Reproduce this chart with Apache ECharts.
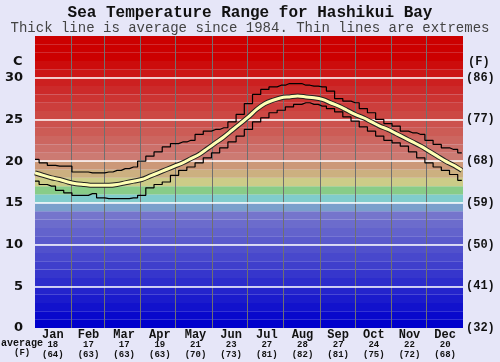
<!DOCTYPE html>
<html>
<head>
<meta charset="utf-8">
<title>Sea Temperature Range for Hashikui Bay</title>
<script src="https://cdn.jsdelivr.net/npm/echarts@6/dist/echarts.min.js"></script>
<style>
  html, body { margin: 0; padding: 0; background: #e6e6f8; }
  #chart { width: 500px; height: 362px; }
</style>
</head>
<body>
<div id="chart"></div>
<script>
// day of year for each sample
var days = [0, 7, 14, 21, 28, 35, 42, 49, 56, 63, 70, 77, 84, 91, 98, 105, 112, 119, 126, 133,
  140, 147, 154, 161, 168, 175, 182, 189, 196, 203, 210, 217, 224, 231, 238, 245, 252, 259,
  266, 273, 280, 287, 294, 301, 308, 315, 322, 329, 336, 343, 350, 357, 364];

// average sea temperature (C)
var avgTemp = [18.6, 18.3, 18.0, 17.8, 17.5, 17.3, 17.2, 17.1, 17.1, 17.1, 17.2, 17.4, 17.6, 17.8,
  18.2, 18.6, 19.0, 19.4, 19.8, 20.3, 20.8, 21.5, 22.2, 22.9, 23.7, 24.5, 25.3, 26.2, 26.9,
  27.3, 27.6, 27.7, 27.8, 27.7, 27.6, 27.4, 27.0, 26.6, 26.1, 25.6, 25.2, 24.7, 24.2, 23.8,
  23.3, 22.8, 22.3, 21.8, 21.2, 20.6, 20.0, 19.5, 18.9];

// highest recorded (C)
var maxTemp = [20.2, 19.8, 19.5, 19.4, 19.4, 18.7, 18.7, 18.6, 18.6, 18.7, 18.9, 19.1, 19.3, 20.0,
  20.6, 21.1, 21.7, 22.1, 22.3, 22.5, 23.2, 23.6, 23.8, 24.0, 24.7, 25.6, 26.9, 28.0, 28.6,
  28.9, 29.1, 29.3, 29.3, 29.1, 29.0, 28.9, 28.4, 27.5, 27.2, 27.0, 26.3, 25.8, 25.0, 24.5,
  24.2, 23.6, 23.4, 23.2, 22.5, 22.0, 21.6, 21.4, 21.0];

// lowest recorded (C)
var minTemp = [17.6, 17.2, 17.0, 16.5, 16.2, 15.9, 15.9, 16.1, 15.6, 15.5, 15.5, 15.5, 15.6, 15.9,
  16.8, 17.2, 17.5, 18.3, 18.9, 19.3, 19.8, 20.4, 21.0, 21.6, 22.3, 23.0, 23.8, 24.7, 25.2,
  25.8, 26.1, 26.5, 26.8, 27.0, 26.8, 26.6, 26.3, 25.9, 25.3, 24.8, 24.1, 23.6, 23.0, 22.5,
  22.2, 21.8, 21.1, 20.4, 19.8, 19.3, 18.9, 18.4, 17.7];

var months = ['Jan', 'Feb', 'Mar', 'Apr', 'May', 'Jun', 'Jul', 'Aug', 'Sep', 'Oct', 'Nov', 'Dec'];
var monthAvgC = [18, 17, 17, 19, 21, 23, 27, 28, 27, 24, 22, 20];
var monthAvgF = [64, 63, 63, 63, 70, 73, 81, 82, 81, 75, 72, 68];
var monthStarts = [31, 59, 90, 120, 151, 181, 212, 243, 273, 304, 334];
var yTicks = [5, 10, 15, 20, 25, 30];

// one colour per degree band, 0C at the bottom
var bandColors = ['#0000cc', '#0909cc', '#1212cc', '#1b1bcc', '#2424cc', '#2d2dcc', '#3636cc',
  '#3f3fcc', '#4848cc', '#5151cc', '#5a5acc', '#6363cc', '#6c6ccc', '#7575cc', '#7aa0cc',
  '#80cccc', '#88cc88', '#cccc88', '#ccb080', '#cc9878', '#cc7a72', '#cc706a', '#cc6660',
  '#cc5c56', '#cc524e', '#cc4844', '#cc3e3c', '#cc3432', '#cc2a2a', '#cc2020', '#cc1616',
  '#cc0c0c', '#cc0000', '#cc0000', '#cc0000'];

function pairs(vals) {
  return days.map(function (d, i) { return [d, vals[i]]; });
}

var mono = '"Liberation Mono", "Courier New", monospace';

var chart = echarts.init(document.getElementById('chart'));

var option = {
  animation: false,
  backgroundColor: '#e6e6f8',
  title: [
    {
      text: 'Sea Temperature Range for Hashikui Bay',
      left: 'center', top: 0,
      textStyle: { fontFamily: mono, fontWeight: 'bold', fontSize: 16, color: '#111' }
    },
    {
      text: 'Thick line is average since 1984. Thin lines are extremes',
      left: 'center', top: 16,
      textStyle: { fontFamily: mono, fontWeight: 'normal', fontSize: 14, color: '#444' }
    }
  ],
  grid: { left: 35, right: 37, top: 36, bottom: 34 },
  xAxis: [
    { type: 'value', min: 0, max: 365, show: false },
    {
      type: 'category', data: months, position: 'bottom', boundaryGap: true,
      axisLine: { show: false }, axisTick: { show: false }, splitLine: { show: false },
      axisLabel: {
        margin: 2, interval: 0,
        formatter: function (v, i) {
          return '{m|' + v + '}\n{v|' + monthAvgC[i] + '}\n{f|(' + monthAvgF[i] + ')}';
        },
        rich: {
          m: { fontFamily: mono, fontWeight: 'bold', fontSize: 12, lineHeight: 10, color: '#111' },
          v: { fontFamily: mono, fontWeight: 'bold', fontSize: 9, lineHeight: 10, color: '#111' },
          f: { fontFamily: mono, fontWeight: 'bold', fontSize: 9, lineHeight: 10, color: '#111' }
        }
      }
    }
  ],
  yAxis: [
    {
      type: 'value', min: 0, max: 35, interval: 5, position: 'left',
      axisLine: { show: false }, axisTick: { show: false }, splitLine: { show: false },
      axisLabel: {
        margin: 12, showMaxLabel: false,
        fontFamily: '"DejaVu Sans", Verdana, sans-serif', fontWeight: 'bold', fontSize: 13, color: '#111'
      }
    },
    {
      type: 'value', min: 0, max: 35, interval: 5, position: 'right',
      axisLine: { show: false }, axisTick: { show: false }, splitLine: { show: false },
      axisLabel: {
        margin: 3, showMaxLabel: false,
        fontFamily: mono, fontWeight: 'bold', fontSize: 12, color: '#111',
        formatter: function (v) { return '(' + Math.round(v * 9 / 5 + 32) + ')'; }
      }
    }
  ],
  graphic: [
    { type: 'text', left: 13, top: 55, style: { text: 'C', font: 'bold 13px "DejaVu Sans", sans-serif', fill: '#111' } },
    { type: 'text', left: 468, top: 56, style: { text: '(F)', font: 'bold 12px ' + mono, fill: '#111' } },
    { type: 'text', left: 1, top: 338, style: { text: 'average', font: 'bold 10px ' + mono, fill: '#111' } },
    { type: 'text', left: 14, top: 348, style: { text: '(F)', font: 'bold 9px ' + mono, fill: '#111' } }
  ],
  series: [
    {
      // colour bands
      type: 'line', data: [], z: 1, silent: true,
      markArea: {
        silent: true, z: 1,
        data: bandColors.map(function (c, i) {
          return [{ yAxis: i, itemStyle: { color: c } }, { yAxis: i + 1 }];
        })
      }
    },
    {
      // grid lines
      type: 'line', data: [], z: 2, silent: true,
      markLine: {
        silent: true, z: 2, symbol: 'none', label: { show: false },
        data: monthStarts.map(function (d) {
          return { xAxis: d, lineStyle: { color: '#707070', width: 1, type: 'solid' } };
        }).concat(yTicks.map(function (t) {
          return { yAxis: t, lineStyle: { color: '#ffffff', width: 1.5, type: 'solid' } };
        }))
      }
    },
    {
      name: 'max', type: 'line', data: pairs(maxTemp), step: 'middle', showSymbol: false, z: 3,
      lineStyle: { color: '#000', width: 1.2 }
    },
    {
      name: 'min', type: 'line', data: pairs(minTemp), step: 'middle', showSymbol: false, z: 3,
      lineStyle: { color: '#000', width: 1.2 }
    },
    {
      name: 'avg outline', type: 'line', data: pairs(avgTemp), smooth: 0.3, showSymbol: false, z: 4,
      lineStyle: { color: '#222', width: 5 }
    },
    {
      name: 'avg', type: 'line', data: pairs(avgTemp), smooth: 0.3, showSymbol: false, z: 5,
      lineStyle: { color: '#ffffb4', width: 3 }
    }
  ]
};

chart.setOption(option);
</script>
</body>
</html>
